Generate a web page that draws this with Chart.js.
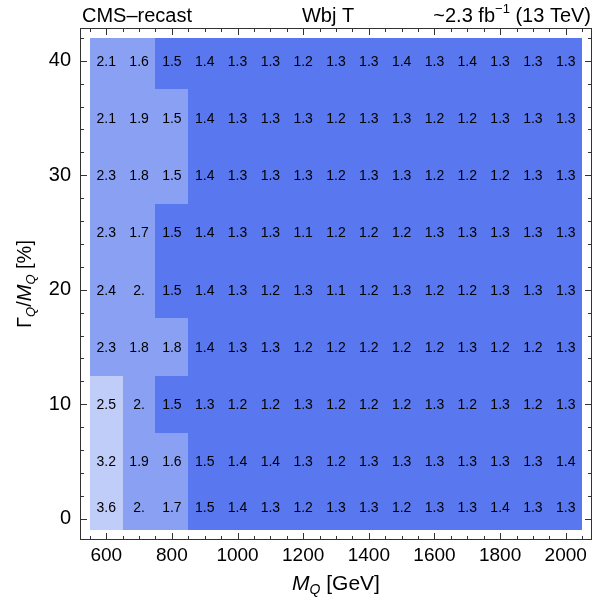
<!DOCTYPE html>
<html>
<head>
<meta charset="utf-8">
<script src="https://cdn.jsdelivr.net/npm/chart.js@4.4.1/dist/chart.umd.min.js"></script>
<style>
html, body { margin: 0; padding: 0; background: #fff; }
canvas { display: block; }
</style>
</head>
<body>
<canvas id="heatchart" width="596" height="599"></canvas>
<script>
// columns: M_Q [GeV]
var masses = [600, 700, 800, 900, 1000, 1100, 1200, 1300, 1400, 1500, 1600, 1700, 1800, 1900, 2000];
// rows: Gamma_Q/M_Q [%], top to bottom
var widths = [40, 35, 30, 25, 20, 15, 10, 5, 1];
var rowEdges = [42, 37.5, 32.5, 27.5, 22.5, 17.5, 12.5, 7.5, 3, -1];

var row40 = [2.1, 1.6, 1.47, 1.4, 1.3, 1.3, 1.2, 1.3, 1.3, 1.4, 1.3, 1.4, 1.3, 1.3, 1.3];
var row35 = [2.1, 1.9, 1.52, 1.4, 1.3, 1.3, 1.3, 1.2, 1.3, 1.3, 1.2, 1.2, 1.3, 1.3, 1.3];
var row30 = [2.3, 1.8, 1.51, 1.4, 1.3, 1.3, 1.3, 1.2, 1.3, 1.3, 1.2, 1.2, 1.2, 1.3, 1.3];
var row25 = [2.3, 1.7, 1.48, 1.4, 1.3, 1.3, 1.1, 1.2, 1.2, 1.2, 1.3, 1.3, 1.3, 1.3, 1.3];
var row20 = [2.4, 2.0, 1.47, 1.4, 1.3, 1.2, 1.3, 1.1, 1.2, 1.3, 1.2, 1.2, 1.3, 1.3, 1.3];
var row15 = [2.3, 1.8, 1.8, 1.4, 1.3, 1.3, 1.2, 1.2, 1.2, 1.2, 1.2, 1.3, 1.2, 1.2, 1.3];
var row10 = [2.52, 2.0, 1.48, 1.3, 1.2, 1.2, 1.3, 1.2, 1.2, 1.2, 1.3, 1.2, 1.3, 1.2, 1.3];
var row5 = [3.2, 1.9, 1.6, 1.47, 1.4, 1.4, 1.3, 1.2, 1.3, 1.3, 1.3, 1.3, 1.3, 1.3, 1.4];
var row1 = [3.6, 2.0, 1.7, 1.46, 1.4, 1.3, 1.2, 1.3, 1.3, 1.2, 1.3, 1.3, 1.4, 1.3, 1.3];
var rows = [row40, row35, row30, row25, row20, row15, row10, row5, row1];

var xTicks = [600, 800, 1000, 1200, 1400, 1600, 1800, 2000];
var yTicks = [0, 10, 20, 30, 40];

var darkBlue = '#5977ee';
var midBlue = '#8aa1f3';
var lightBlue = '#c1cdf9';

function cellColor(v) {
    if (v >= 2.5) return lightBlue;
    if (v >= 1.5) return midBlue;
    return darkBlue;
}

// Mathematica style: 2.0 -> "2."
function fmt(v) {
    var r = Math.round(v * 10) / 10;
    if (r % 1 === 0) return r.toFixed(0) + '.';
    return r.toFixed(1);
}

var points = [];
for (var i = 0; i < widths.length; i++) {
    for (var j = 0; j < masses.length; j++) {
        points.push({ x: masses[j], y: widths[i], v: rows[i][j], y0: rowEdges[i + 1], y1: rowEdges[i] });
    }
}

var FONT = '"Liberation Sans", Arial, Helvetica, sans-serif';

var cellPlugin = {
    id: 'cells',
    beforeDatasetsDraw: function (chart) {
        var ctx = chart.ctx, xs = chart.scales.x, ys = chart.scales.y;
        ctx.save();
        chart.data.datasets[0].data.forEach(function (p) {
            var l = Math.round(xs.getPixelForValue(p.x - 50)), r = Math.round(xs.getPixelForValue(p.x + 50));
            var t = Math.round(ys.getPixelForValue(p.y1)), b = Math.round(ys.getPixelForValue(p.y0));
            ctx.fillStyle = cellColor(p.v);
            ctx.fillRect(l, t, r - l, b - t);
        });
        ctx.restore();
    },
    afterDatasetsDraw: function (chart) {
        var ctx = chart.ctx, xs = chart.scales.x, ys = chart.scales.y;
        ctx.save();
        ctx.fillStyle = '#000';
        ctx.font = '14px ' + FONT;
        ctx.textAlign = 'center';
        ctx.textBaseline = 'middle';
        chart.data.datasets[0].data.forEach(function (p) {
            ctx.fillText(fmt(p.v), xs.getPixelForValue(p.x), ys.getPixelForValue(p.y) + 1);
        });
        ctx.restore();
    },
    afterDraw: function (chart) {
        var ctx = chart.ctx, xs = chart.scales.x, ys = chart.scales.y, a = chart.chartArea;
        ctx.save();
        // frame
        ctx.strokeStyle = '#333';
        ctx.lineWidth = 1;
        ctx.strokeRect(a.left + 0.5, a.top + 0.5, a.right - a.left - 1, a.bottom - a.top - 1);
        // inward ticks
        ctx.beginPath();
        for (var m = 550; m <= 2050; m += 50) {
            var px = Math.round(xs.getPixelForValue(m)) + 0.5;
            var len = (m % 200 === 0) ? 7 : 4;
            ctx.moveTo(px, a.bottom); ctx.lineTo(px, a.bottom - len);
            ctx.moveTo(px, a.top); ctx.lineTo(px, a.top + len);
        }
        for (var g = 0; g <= 42; g += 2) {
            var py = Math.round(ys.getPixelForValue(g)) + 0.5;
            var ln = (g % 10 === 0) ? 7 : 4;
            ctx.moveTo(a.left, py); ctx.lineTo(a.left + ln, py);
            ctx.moveTo(a.right, py); ctx.lineTo(a.right - ln, py);
        }
        ctx.stroke();

        // header
        ctx.fillStyle = '#000';
        ctx.textBaseline = 'alphabetic';
        ctx.font = '20px ' + FONT;
        ctx.textAlign = 'left';
        ctx.fillText('CMS\u2013recast', 82, 22);
        ctx.textAlign = 'center';
        ctx.fillText('Wbj T', 328, 22);
        var p1 = '~2.3 fb', sup = '\u22121', p2 = ' (13 TeV)';
        ctx.font = '20px ' + FONT;
        var w1 = ctx.measureText(p1).width, w3 = ctx.measureText(p2).width;
        ctx.font = '13px ' + FONT;
        var w2 = ctx.measureText(sup).width;
        var x0 = 591 - (w1 + w2 + w3);
        ctx.textAlign = 'left';
        ctx.font = '20px ' + FONT;
        ctx.fillText(p1, x0, 22);
        ctx.font = '13px ' + FONT;
        ctx.fillText(sup, x0 + w1, 13);
        ctx.font = '20px ' + FONT;
        ctx.fillText(p2, x0 + w1 + w2, 22);

        // x title: M_Q [GeV]
        var cx = (a.left + a.right) / 2;
        ctx.font = 'italic 21px ' + FONT;
        var wm = ctx.measureText('M').width;
        ctx.font = 'italic 14px ' + FONT;
        var wq = ctx.measureText('Q').width;
        ctx.font = '21px ' + FONT;
        var wg = ctx.measureText(' [GeV]').width;
        var sx = cx - (wm + wq + wg) / 2, by = 590;
        ctx.font = 'italic 21px ' + FONT;
        ctx.fillText('M', sx, by);
        ctx.font = 'italic 14px ' + FONT;
        ctx.fillText('Q', sx + wm, by + 4);
        ctx.font = '21px ' + FONT;
        ctx.fillText(' [GeV]', sx + wm + wq, by);

        // y title: Gamma_Q/M_Q [%]
        ctx.translate(31, (a.top + a.bottom) / 2);
        ctx.rotate(-Math.PI / 2);
        var parts = [
            { t: '\u0393', f: '20px ', dy: 0 },
            { t: 'Q', f: 'italic 13px ', dy: 4 },
            { t: '/', f: '20px ', dy: 0 },
            { t: 'M', f: 'italic 20px ', dy: 0 },
            { t: 'Q', f: 'italic 13px ', dy: 4 },
            { t: ' [%]', f: '20px ', dy: 0 }
        ];
        var tot = 0;
        parts.forEach(function (pt) { ctx.font = pt.f + FONT; pt.w = ctx.measureText(pt.t).width; tot += pt.w; });
        var xx = -tot / 2;
        parts.forEach(function (pt) {
            ctx.font = pt.f + FONT;
            ctx.fillText(pt.t, xx, pt.dy);
            xx += pt.w;
        });
        ctx.restore();
    }
};

var ctx = document.getElementById('heatchart').getContext('2d');
var heatchart = new Chart(ctx, {
    type: 'scatter',
    data: {
        datasets: [{
            data: points,
            pointRadius: 0,
            pointHoverRadius: 0,
            showLine: false
        }]
    },
    options: {
        responsive: false,
        animation: false,
        events: [],
        layout: { padding: { top: 28, right: 4, left: 0, bottom: 0 } },
        plugins: { legend: { display: false }, tooltip: { enabled: false } },
        scales: {
            x: {
                type: 'linear',
                min: 520,
                max: 2080,
                grid: { display: false, drawTicks: false },
                border: { display: false },
                afterBuildTicks: function (scale) {
                    scale.ticks = xTicks.map(function (v) { return { value: v }; });
                },
                afterFit: function (scale) { scale.height = 59; },
                ticks: {
                    autoSkip: false,
                    maxRotation: 0,
                    padding: 4,
                    color: '#000',
                    font: { family: FONT, size: 19 },
                    callback: function (v) { return String(v); }
                }
            },
            y: {
                type: 'linear',
                min: -1.86,
                max: 42.86,
                grid: { display: false, drawTicks: false },
                border: { display: false },
                afterBuildTicks: function (scale) {
                    scale.ticks = yTicks.map(function (v) { return { value: v }; });
                },
                afterFit: function (scale) { scale.width = 80; },
                ticks: {
                    autoSkip: false,
                    padding: 9,
                    color: '#000',
                    font: { family: FONT, size: 20 },
                    callback: function (v) { return String(v); }
                }
            }
        }
    },
    plugins: [cellPlugin]
});
</script>
</body>
</html>
